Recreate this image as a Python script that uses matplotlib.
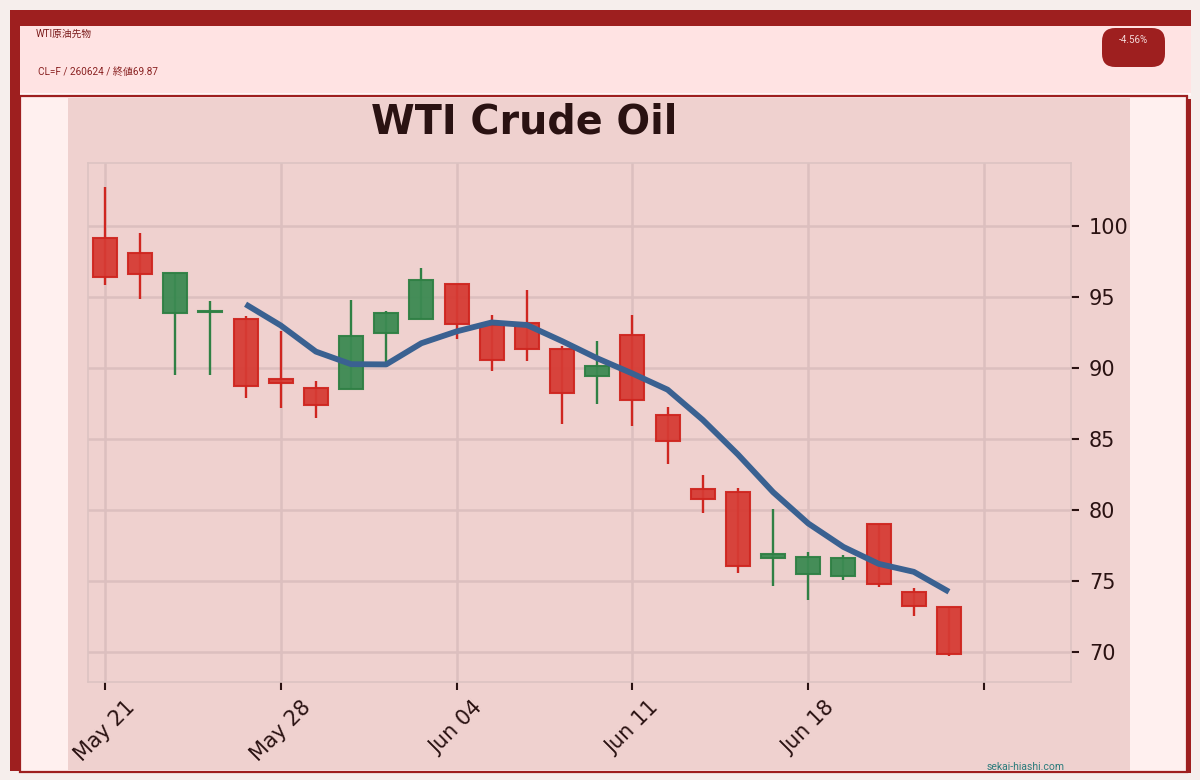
import matplotlib
matplotlib.use("Agg")
import matplotlib.pyplot as plt
from matplotlib.patches import Rectangle, FancyBboxPatch
import numpy as np
import pandas as pd

# ---------------- data ----------------
dates = pd.bdate_range("2026-05-21", periods=25)
opens = [99.10, 98.10, 93.84, 93.90, 93.44, 89.20, 88.60, 88.51, 92.46, 93.44,
         95.88, 93.00, 93.15, 91.30, 89.42, 92.30, 86.70, 81.45, 81.27, 76.60,
         75.50, 75.38, 79.02, 74.20, 73.15]
closes = [96.40, 96.60, 96.67, 93.95, 88.71, 88.95, 87.40, 92.25, 93.87, 96.16,
          93.10, 90.55, 91.35, 88.20, 90.13, 87.74, 84.87, 80.74, 76.03, 76.88,
          76.72, 76.62, 74.81, 73.21, 69.87]
highs = [102.70, 99.46, 96.67, 94.68, 93.66, 92.55, 89.04, 94.80, 93.96, 97.03,
         95.88, 93.68, 95.50, 91.53, 91.88, 93.68, 87.23, 82.48, 81.57, 80.08,
         77.02, 76.84, 79.02, 74.52, 73.15]
lows = [95.85, 94.85, 89.50, 89.50, 87.87, 87.18, 86.47, 88.51, 90.39, 93.44,
        91.99, 89.80, 90.50, 86.06, 87.47, 85.87, 83.25, 79.82, 75.58, 74.67,
        73.65, 75.05, 74.56, 72.56, 69.71]
y_ticks = [70, 75, 80, 85, 90, 95, 100]
title = "WTI Crude Oil"
header_title = "WTI原油先物"
header_sub = "CL=F / 260624 / 終値69.87"
badge_text = "-4.56%"
watermark = "sekai-hiashi.com"

# ---------------- colours ----------------
OUTER = "#f6eeec"
DARK = "#9e1f1f"
HEADER = "#ffe3e3"
PANEL = "#fff0ef"
CHART_BG = "#efd1cf"
GRID = "#dcbfbf"
TEXT = "#2a1212"
RED_FILL = "#d63b34"
RED_EDGE = "#cf2620"
GREEN_FILL = "#3c8a52"
GREEN_EDGE = "#2f8044"
MA_COLOR = "#3a6191"

W, H = 1200, 780
fig = plt.figure(figsize=(12, 7.8), dpi=100, facecolor=OUTER)


def box(x0, y0, x1, y1, **kw):
    r = Rectangle((x0 / W, 1 - y1 / H), (x1 - x0) / W, (y1 - y0) / H,
                  transform=fig.transFigure, **kw)
    fig.add_artist(r)
    return r


# outer frame: thick top band, left bar
box(10, 10, 1191, 26, facecolor=DARK, edgecolor="none", zorder=0)
box(10, 10, 20, 771, facecolor=DARK, edgecolor="none", zorder=2.1)
box(20, 26, 1191, 93, facecolor=HEADER, edgecolor="none", zorder=1)
box(20, 93, 1191, 96, facecolor="#fff6f5", edgecolor="none", zorder=1)
# panel shadow and panel
box(24, 99, 1191, 773, facecolor=DARK, edgecolor="none", zorder=1.5)
box(20, 96, 1187, 771.5, facecolor=PANEL, edgecolor=DARK, linewidth=1.6, zorder=2)
# chart image area
box(68, 97.5, 1130, 769.5, facecolor=CHART_BG, edgecolor="none", zorder=2.2)

# header texts
fig.text(36 / W, 1 - 34 / H, header_title, fontsize=7, color="#7a1a1a",
         family=["Roboto", "Noto Sans CJK JP"], va="center", ha="left", zorder=5)
fig.text(38 / W, 1 - 72 / H, header_sub, fontsize=7.2, color="#8a2222",
         family=["Roboto", "Noto Sans CJK JP"], va="center", ha="left", zorder=5)

badge = FancyBboxPatch((1102 / W, 1 - 67 / H), 63 / W, 39 / H,
                       boxstyle="round,pad=0,rounding_size=0.011",
                       transform=fig.transFigure, facecolor=DARK,
                       edgecolor="none", zorder=5,
                       mutation_aspect=W / H)
fig.add_artist(badge)
fig.text(1133.5 / W, 1 - 40 / H, badge_text, fontsize=7, color="#f4dada",
         family=["Roboto", "DejaVu Sans"], va="center", ha="center", zorder=6)

fig.text(1026 / W, 1 - 766.5 / H, watermark, fontsize=7.5, color="#2b7b7b",
         family=["Roboto", "DejaVu Sans"], va="center", ha="center", zorder=6)

# title
fig.text(524 / W, 1 - 133 / H, title, fontsize=28.5, fontweight="bold",
         color=TEXT, ha="center", va="baseline", family="DejaVu Sans", zorder=6)

# ---------------- axes ----------------
ax = fig.add_axes([88 / W, 1 - 682 / H, 983 / W, 519 / H])
ax.set_zorder(3)
ax.set_facecolor(CHART_BG)
for s in ax.spines.values():
    s.set_color("#dcc3c2")
    s.set_linewidth(1.2)

x = np.arange(len(dates))
o = np.array(opens); c = np.array(closes)
hi = np.array(highs); lo = np.array(lows)
up = c >= o
fills = np.where(up, GREEN_FILL, RED_FILL)
edges = np.where(up, GREEN_EDGE, RED_EDGE)

ax.vlines(x, lo, hi, colors=edges, linewidth=1.7, zorder=2)
bottoms = np.minimum(o, c)
heights = np.maximum(np.abs(c - o), 0.06)
ax.bar(x, heights, bottom=bottoms, width=0.68, color=fills, edgecolor=edges,
       linewidth=1.5, alpha=0.95, zorder=3)

ma = pd.Series(closes).rolling(5).mean()
ax.plot(x, ma, color=MA_COLOR, linewidth=4.2, solid_capstyle="butt", zorder=4)

ax.set_xlim(-0.48, 27.47)
ax.set_ylim(67.9, 104.4)
ax.yaxis.tick_right()
ax.set_yticks(y_ticks)
ax.set_yticklabels([str(v) for v in y_ticks])

xt = list(range(0, 26, 5))
ax.set_xticks(xt)
ax.set_xticklabels([dates[i].strftime("%b %d") if i < len(dates) else "" for i in xt])
ax.tick_params(axis="x", rotation=45)
ax.tick_params(axis="both", colors=TEXT, labelsize=15, length=6, width=1.5,
               labelcolor=TEXT)
ax.tick_params(axis="y", pad=7)
ax.tick_params(axis="x", pad=5)
ax.grid(True, color=GRID, linewidth=1.8, zorder=0)
ax.set_axisbelow(True)

fig.savefig("out.png", dpi=100, facecolor=OUTER)
